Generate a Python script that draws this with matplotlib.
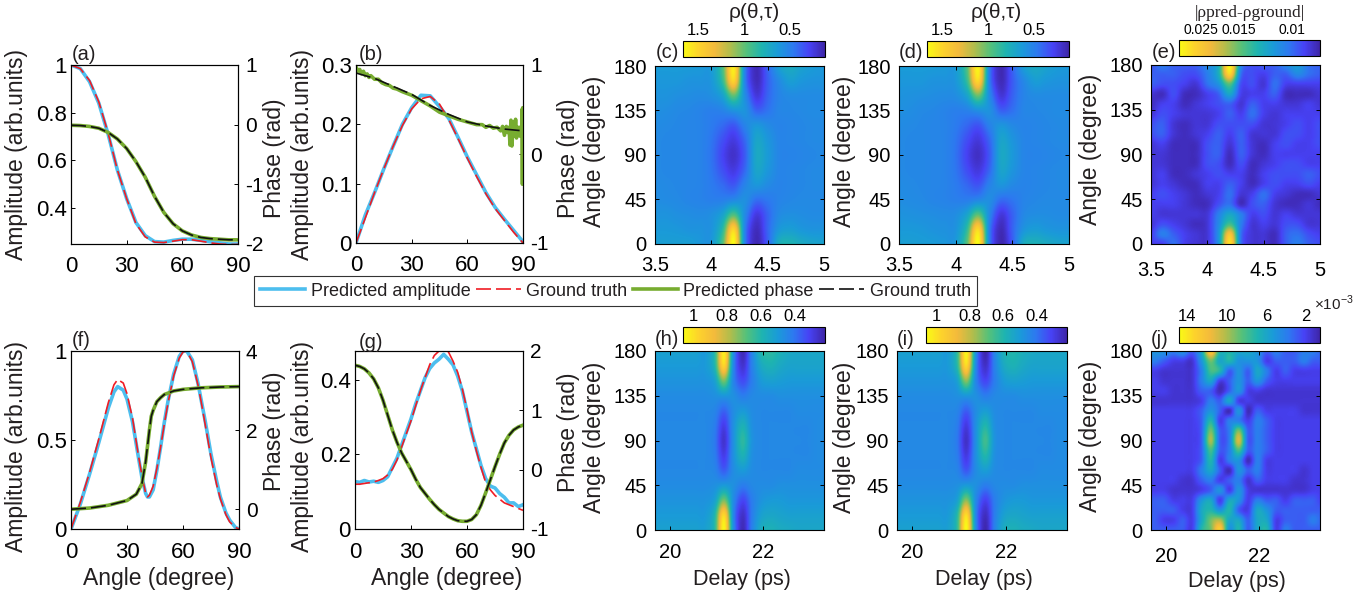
import numpy as np
import matplotlib
matplotlib.use("Agg")
import matplotlib.pyplot as plt
from matplotlib.colors import LinearSegmentedColormap
from matplotlib.lines import Line2D

W, H = 1370, 599
SANS = ["Liberation Sans", "DejaVu Sans"]
plt.rcParams["font.family"] = SANS
plt.rcParams["text.color"] = "#231f20"
plt.rcParams["axes.unicode_minus"] = False
plt.rcParams["mathtext.fontset"] = "custom"
plt.rcParams["mathtext.rm"] = "Liberation Sans"

# parula-like colours
parula_colors = ["#3e26a8", "#4742f5", "#2d79f0", "#1a9bd8", "#1eb4b0", "#55c17a",
                 "#b0bd4c", "#f3ba3c", "#fdd22c", "#f9fb15"]
parula = LinearSegmentedColormap.from_list("parula", parula_colors)

BLUE, RED, GREEN, BLACK = "#4dbeee", "#f01c24", "#77ac30", "#111111"
DASH = (9, 3)

# --- line panels ---
x5 = [0, 5, 10, 15, 20, 25, 30, 35, 40, 45, 50, 55, 60, 65, 70, 75, 80, 85, 90]

a_amp = [1.0, .985, .93, .84, .71, .56, .44, .34, .285, .26, .258, .265, .27, .27, .265, .26, .255, .25, .25]
a_amp_gt = [1.0, .985, .935, .845, .715, .56, .44, .335, .28, .258, .256, .262, .268, .268, .262, .255, .25, .248, .248]
a_ph = [-.01, -.015, -.03, -.06, -.13, -.24, -.4, -.62, -.88, -1.2, -1.47, -1.66, -1.78, -1.85, -1.89, -1.91, -1.92, -1.93, -1.93]
a_ph_gt = [-.01, -.015, -.03, -.06, -.13, -.24, -.4, -.62, -.88, -1.2, -1.47, -1.66, -1.78, -1.85, -1.89, -1.91, -1.92, -1.93, -1.93]

b_amp = [0, .047, .085, .125, .163, .2, .228, .249, .248, .23, .21, .178, .145, .115, .085, .06, .04, .021, .002]
b_amp_gt = [0, .042, .085, .125, .163, .198, .226, .243, .247, .234, .208, .176, .143, .112, .083, .058, .038, .018, 0]
b_ph_x = [0, 1, 2, 3, 4, 5, 6, 7, 8, 10, 12, 14, 16, 18, 20, 22, 25, 30, 35, 40, 45, 50, 55, 60, 65, 68, 70, 72, 74,
          76, 78, 79, 80, 81, 82, 82.5, 83, 83.5, 84, 84.5, 85, 85.5, 86, 86.5, 87, 87.5, 88, 88.5, 89, 89.3, 89.5,
          89.7, 89.85, 90]
b_ph = [.98, .93, .95, .90, .93, .88, .90, .86, .88, .84, .84, .80, .78, .77, .74, .73, .70, .66, .60, .54, .47, .43,
        .39, .36, .33, .33, .30, .32, .29, .30, .26, .31, .21, .31, .24, .30, .10, .38, .09, .25, .36, .20, .39, .18,
        .30, .22, .30, .20, .30, .22, .50, -.34, .52, -.30]
b_ph_gt_x = [0, 10, 20, 30, 40, 50, 60, 70, 80, 90]
b_ph_gt = [.91, .85, .76, .67, .545, .445, .36, .315, .28, .26]

f_x = [0, 5, 10, 15, 20, 23, 25, 28, 30, 33, 36, 38, 40, 41, 42, 44, 46, 48, 50, 52, 55, 58, 60, 62, 65, 68, 70, 72,
       75, 78, 80, 83, 85, 88, 90]
f_amp = [0, .14, .31, .49, .68, .77, .80, .78, .73, .60, .41, .29, .2, .18, .18, .22, .33, .46, .6, .72, .87, .97, 1.0,
         1.0, .95, .82, .71, .6, .42, .27, .18, .09, .05, .01, 0]
f_amp_gt = [0, .15, .32, .51, .71, .81, .84, .82, .76, .62, .42, .3, .2, .18, .19, .24, .34, .46, .59, .71, .86, .96,
            .995, 1.0, .94, .81, .7, .58, .4, .25, .17, .08, .04, .01, 0]
f_ph_x = [0, 10, 20, 30, 35, 38, 40, 41, 42, 43, 44, 46, 48, 50, 55, 60, 70, 80, 90]
f_ph = [0, .03, .1, .22, .38, .65, 1.2, 1.6, 2.0, 2.35, 2.5, 2.72, 2.82, 2.9, 2.99, 3.03, 3.07, 3.09, 3.1]

g_x = [0, 2.5, 5, 7.5, 10, 12.5, 15, 17.5, 20, 22.5, 25, 27.5, 30, 32.5, 35, 37.5, 40, 42.5, 45, 47.5, 50, 52.5, 55,
       57.5, 60, 62.5, 65, 67.5, 70, 72.5, 75, 77.5, 80, 82.5, 85, 87.5, 90]
g_amp = [.127, .125, .13, .126, .128, .125, .13, .14, .165, .19, .225, .26, .295, .335, .37, .405, .43, .445, .455,
         .468, .455, .44, .41, .37, .315, .26, .215, .17, .135, .115, .11, .095, .085, .07, .07, .06, .065]
g_amp_gt = [.12, .12, .122, .124, .126, .13, .135, .145, .16, .185, .22, .255, .29, .33, .37, .405, .44, .465, .477,
            .483, .475, .45, .42, .375, .32, .26, .21, .165, .125, .105, .09, .08, .07, .065, .06, .055, .05]
g_ph = [1.76, 1.74, 1.7, 1.63, 1.53, 1.38, 1.17, .92, .67, .46, .28, .14, 0, -.16, -.3, -.4, -.5, -.59, -.67, -.73,
        -.79, -.83, -.86, -.87, -.87, -.84, -.76, -.6, -.39, -.17, .05, .26, .45, .58, .67, .72, .75]

# --- maps: value at each delay (columns) and angle (rows, 0 to 180) ---
c_delay = [3.5, 3.6, 3.7, 3.8, 3.9, 4.0, 4.1, 4.2, 4.3, 4.4, 4.5, 4.6, 4.7, 4.8, 4.9, 5.0]
h_delay = [19.76, 19.96, 20.16, 20.36, 20.56, 20.76, 20.96, 21.16, 21.36, 21.56, 21.76, 21.96, 22.16, 22.36, 22.56,
           22.76, 22.96, 23.16, 23.36]

c_map = [[.66, .66, .66, .66, .62, .62, .97, 1.67, .50, .15, .38, .76, .80, .74, .70, .68],
         [.63, .63, .62, .60, .60, .60, .85, 1.50, .50, .17, .40, .62, .66, .62, .60, .60],
         [.60, .60, .58, .57, .56, .58, .68, .95, .55, .25, .40, .55, .58, .57, .56, .56],
         [.57, .56, .55, .53, .52, .50, .50, .54, .58, .44, .47, .52, .54, .55, .55, .55],
         [.56, .55, .54, .53, .52, .48, .42, .36, .52, .62, .56, .52, .53, .54, .55, .55],
         [.55, .54, .54, .53, .52, .46, .34, .25, .42, .70, .62, .53, .53, .54, .55, .55],
         [.55, .54, .54, .53, .52, .45, .30, .20, .38, .72, .64, .53, .52, .53, .54, .55],
         [.55, .54, .54, .53, .52, .46, .34, .25, .42, .70, .62, .53, .53, .54, .55, .55],
         [.56, .55, .54, .53, .52, .48, .42, .36, .52, .62, .56, .52, .53, .54, .55, .55],
         [.58, .57, .55, .54, .52, .50, .52, .60, .60, .40, .45, .53, .54, .55, .56, .56],
         [.60, .60, .58, .57, .56, .58, .68, 1.00, .56, .24, .40, .52, .56, .56, .56, .56],
         [.62, .62, .62, .60, .60, .62, .88, 1.50, .50, .17, .38, .55, .66, .62, .60, .60],
         [.64, .64, .64, .64, .63, .64, .95, 1.62, .50, .16, .40, .66, .74, .68, .64, .62]]

d_map = [[.66, .66, .65, .64, .62, .63, .99, 1.67, .50, .14, .37, .74, .78, .74, .70, .68],
         [.63, .63, .62, .60, .59, .60, .87, 1.52, .49, .16, .39, .60, .65, .62, .60, .60],
         [.60, .59, .58, .57, .56, .57, .69, .98, .54, .24, .39, .54, .57, .57, .56, .56],
         [.57, .56, .55, .53, .52, .50, .49, .53, .57, .43, .46, .52, .54, .55, .55, .55],
         [.56, .55, .54, .53, .52, .48, .41, .35, .51, .61, .55, .52, .53, .54, .55, .55],
         [.55, .54, .54, .53, .52, .46, .33, .24, .41, .69, .61, .53, .53, .54, .55, .55],
         [.55, .54, .54, .53, .52, .45, .29, .19, .37, .71, .63, .53, .52, .53, .54, .55],
         [.55, .54, .54, .53, .52, .46, .33, .24, .41, .69, .61, .53, .53, .54, .55, .55],
         [.56, .55, .54, .53, .52, .48, .41, .35, .51, .61, .55, .52, .53, .54, .55, .55],
         [.58, .57, .55, .54, .52, .50, .51, .58, .59, .39, .44, .53, .54, .55, .56, .56],
         [.60, .59, .58, .57, .56, .57, .69, 1.02, .55, .23, .39, .52, .56, .56, .56, .56],
         [.62, .62, .62, .60, .60, .62, .89, 1.52, .49, .16, .37, .54, .65, .62, .60, .60],
         [.64, .64, .64, .64, .63, .64, .97, 1.64, .49, .15, .39, .65, .73, .68, .64, .62]]

h_map = [[.52, .52, .52, .52, .52, .52, .62, 1.05, .47, .24, .43, .56, .58, .56, .55, .54, .54, .54, .54],
         [.50, .50, .50, .50, .50, .50, .60, .98, .45, .26, .42, .52, .54, .53, .52, .52, .52, .52, .52],
         [.48, .48, .48, .48, .48, .48, .52, .72, .46, .32, .42, .48, .50, .50, .49, .49, .49, .49, .49],
         [.46, .46, .46, .46, .46, .46, .47, .50, .47, .42, .45, .46, .46, .47, .47, .47, .47, .47, .47],
         [.45, .45, .45, .45, .45, .45, .44, .36, .46, .50, .46, .45, .45, .45, .45, .46, .46, .46, .46],
         [.45, .45, .45, .45, .45, .45, .42, .30, .47, .58, .47, .45, .45, .45, .45, .45, .45, .46, .46],
         [.45, .45, .45, .45, .45, .45, .41, .27, .47, .62, .48, .45, .45, .45, .45, .45, .45, .46, .46],
         [.45, .45, .45, .45, .45, .45, .42, .30, .47, .58, .47, .45, .45, .45, .45, .45, .45, .46, .46],
         [.45, .45, .45, .45, .45, .45, .44, .37, .46, .50, .46, .45, .45, .45, .45, .46, .46, .46, .46],
         [.46, .46, .46, .46, .46, .46, .47, .49, .47, .42, .45, .46, .46, .47, .47, .47, .47, .47, .47],
         [.48, .48, .48, .48, .48, .48, .52, .72, .44, .33, .42, .50, .52, .51, .50, .50, .50, .50, .50],
         [.50, .50, .50, .50, .50, .50, .60, .97, .45, .27, .43, .55, .58, .55, .53, .53, .53, .53, .53],
         [.52, .52, .52, .52, .52, .50, .62, 1.03, .47, .24, .44, .60, .62, .58, .55, .54, .54, .54, .54]]

i_map = [[.52, .52, .52, .52, .52, .52, .63, 1.06, .46, .23, .43, .56, .58, .56, .55, .54, .54, .54, .54],
         [.50, .50, .50, .50, .50, .50, .61, .99, .44, .25, .42, .52, .54, .53, .52, .52, .52, .52, .52],
         [.48, .48, .48, .48, .48, .48, .52, .74, .45, .31, .42, .48, .50, .50, .49, .49, .49, .49, .49],
         [.46, .46, .46, .46, .46, .46, .47, .50, .47, .42, .45, .46, .46, .47, .47, .47, .47, .47, .47],
         [.45, .45, .45, .45, .45, .45, .44, .35, .46, .51, .46, .45, .45, .45, .45, .46, .46, .46, .46],
         [.45, .45, .45, .45, .45, .45, .42, .29, .47, .60, .47, .45, .45, .45, .45, .45, .45, .46, .46],
         [.45, .45, .45, .45, .45, .45, .41, .26, .47, .65, .48, .45, .45, .45, .45, .45, .45, .46, .46],
         [.45, .45, .45, .45, .45, .45, .42, .29, .47, .60, .47, .45, .45, .45, .45, .45, .45, .46, .46],
         [.45, .45, .45, .45, .45, .45, .44, .36, .46, .51, .46, .45, .45, .45, .45, .46, .46, .46, .46],
         [.46, .46, .46, .46, .46, .46, .47, .49, .47, .42, .45, .46, .46, .47, .47, .47, .47, .47, .47],
         [.48, .48, .48, .48, .48, .48, .52, .74, .44, .32, .42, .50, .52, .51, .50, .50, .50, .50, .50],
         [.50, .50, .50, .50, .50, .50, .61, .98, .45, .26, .43, .55, .58, .55, .53, .53, .53, .53, .53],
         [.52, .52, .52, .52, .52, .50, .63, 1.05, .47, .23, .44, .58, .60, .57, .55, .54, .54, .54, .54]]

# e and j are drawn in 10^-3 units, rows every 10 degrees
e_map = [[5, 5, 8, 5, 4, 4, 11, 29, 8, 4, 4, 3, 7, 9, 7, 6],
         [5, 9, 7, 5, 4, 4, 11, 26, 8, 4, 4, 3, 7, 8, 6, 5],
         [4, 6, 5, 4, 3, 4, 10, 17, 9, 4, 5, 4, 6, 6, 4, 4],
         [5, 4, 4, 4, 4, 4, 9, 13, 9, 5, 6, 4, 5, 4, 4, 4],
         [5, 5, 5, 4, 3, 3, 6, 8, 3, 6, 7, 4, 3, 3, 4, 3],
         [5, 6, 5, 4, 3, 4, 5, 8, 4, 5, 8, 5, 4, 3, 3, 4],
         [4, 5, 4, 3, 3, 5, 5, 7, 5, 3, 5, 6, 5, 5, 6, 5],
         [4, 5, 3, 3, 4, 5, 6, 5, 5, 3, 5, 6, 6, 6, 7, 6],
         [4, 4, 3, 3, 3, 6, 6, 3, 6, 3, 4, 5, 6, 6, 5, 5],
         [4, 4, 3, 3, 3, 6, 7, 3, 7, 4, 3, 5, 5, 5, 5, 5],
         [4, 5, 3, 3, 3, 6, 7, 4, 7, 4, 3, 5, 6, 5, 5, 6],
         [6, 7, 4, 3, 4, 5, 7, 5, 7, 4, 4, 4, 6, 6, 5, 6],
         [6, 7, 4, 3, 4, 4, 6, 6, 6, 6, 4, 4, 5, 6, 5, 6],
         [4, 6, 5, 4, 4, 4, 5, 7, 5, 8, 5, 4, 5, 5, 5, 5],
         [3, 5, 5, 3, 4, 5, 6, 7, 4, 7, 5, 5, 4, 4, 5, 4],
         [4, 3, 6, 3, 3, 5, 7, 13, 5, 5, 5, 7, 3, 3, 3, 4],
         [7, 6, 6, 5, 4, 8, 11, 18, 6, 6, 4, 8, 5, 5, 5, 5],
         [7, 7, 7, 6, 6, 9, 14, 28, 8, 6, 5, 7, 7, 10, 8, 7],
         [6, 9, 7, 7, 7, 10, 14, 31, 10, 6, 7, 7, 10, 12, 8, 7]]

j_map = [[3, 3, 3, 3, 2, 7, 9, 13, 5, 7, 3, 6, 7, 2, 4, 3, 3, 3, 3],
         [3, 2, 2, 3, 2, 6, 9, 10, 6, 6, 3, 6, 6, 2, 3, 3, 3, 4, 3],
         [3, 3, 3, 2, 2, 6, 7, 5, 7, 3, 2, 6, 5, 3, 3, 3, 3, 3, 3],
         [3, 3, 2, 2, 2, 5, 6, 2, 6, 5, 2, 4, 3, 3, 2, 3, 3, 3, 2],
         [2, 2, 1.5, 1.5, 1.5, 2, 3, 5, 2, 5, 2, 1.5, 1.5, 1.5, 1.5, 1.5, 1.5, 2, 2],
         [2, 2, 2, 1.5, 1.5, 3, 4, 2, 3, 4, 1.5, 3, 2, 2, 2, 1.5, 1.5, 2, 2],
         [2, 2, 2, 2, 2, 4, 6, 3, 1, 5, 3, 4, 2, 2, 2, 2, 1.5, 2, 2],
         [2, 2, 2, 2, 2, 3, 7, 2, 4, 5, 1, 4, 2, 2, 2, 2, 2, 2, 2],
         [2, 2, 2, 2, 2, 3, 8, 3, 4, 8, 3, 4, 3, 2, 2, 2, 2, 2, 2],
         [2, 2, 2, 2, 2, 3, 10, 3, 4, 11, 3, 4, 3, 2, 2, 2, 2, 2, 2],
         [2, 2, 2, 2, 2, 3, 9, 3, 4, 9, 3, 4, 3, 2, 2, 2, 2, 2, 2],
         [2, 2, 2, 2, 2, 3, 7, 2, 4, 4, 2, 4, 3, 2, 2, 2, 2, 2, 2],
         [2, 2, 2, 2, 2, 3, 5, 3, 1, 5, 1, 3, 2, 2, 2, 2, 1.5, 1.5, 1.5],
         [1.5, 1.5, 1.5, 1.5, 1.5, 2, 4, 3, 6, 2, 2, 1.5, 1.5, 1.5, 1.5, 1.5, 1.5, 1.5, 1.5],
         [2, 2, 1.5, 1.5, 1.5, 3, 3, 1, 3, 5, 2, 2, 1.5, 1.5, 1.5, 1.5, 1.5, 1.5, 1.5],
         [2, 1.5, 1.5, 1.5, 1.5, 4, 6, 2, 3, 5, 3, 5, 3, 2, 2, 2, 2, 2, 2],
         [2, 1.5, 1.5, 1.5, 1.5, 4, 8, 7, 3, 5, 3, 6, 4, 2, 3, 2, 2, 2, 2],
         [4, 3, 2, 2, 1.5, 5, 9, 6, 7, 5, 5, 5, 2, 3, 3, 3, 4, 3, 3],
         [5, 5, 4, 5, 3, 6, 13, 7, 7, 6, 6, 5, 3, 4, 3, 3, 4, 4, 3]]


def px_axes(fig, left, right, top, bottom):
    return fig.add_axes([left / W, 1 - bottom / H, (right - left) / W, (bottom - top) / H])


def px_text(fig, x, y, s, **kw):
    kw.setdefault("ha", "center")
    kw.setdefault("va", "center")
    return fig.text(x / W, 1 - y / H, s, **kw)


def line_panel(fig, box, amp, amp_gt, ph_x, ph, ph_gt_x, ph_gt, x_amp, ylim, yticks, ylim2, yticks2):
    ax = px_axes(fig, *box)
    ax.plot(x_amp, amp, color=BLUE, lw=2.6)
    ax.plot(x_amp, amp_gt, color=RED, lw=1.2, dashes=DASH)
    ax.set_xlim(0, 90)
    ax.set_ylim(*ylim)
    ax.set_xticks([0, 30, 60, 90])
    ax.set_yticks(yticks)
    ax.set_yticklabels([f"{t:g}" for t in yticks])
    ax.tick_params(axis="x", direction="in", length=3, labelsize=16, pad=9, width=.7)
    ax.tick_params(axis="y", direction="in", length=3, labelsize=16, pad=3, width=.7)
    ax2 = ax.twinx()
    ax2.plot(ph_x, ph, color=GREEN, lw=2.6)
    ax2.plot(ph_gt_x, ph_gt, color=BLACK, lw=1.2, dashes=DASH)
    ax2.set_ylim(*ylim2)
    ax2.set_yticks(yticks2)
    ax2.tick_params(axis="y", direction="in", length=3, labelsize=15, pad=5, width=.7)
    return ax


def map_panel(fig, box, cbar_box, data, delay, angle_step, xlim, xticks, vmin, vmax, cticks, clabels, csize=12, xpad=9):
    ax = px_axes(fig, *box)
    dx = delay[1] - delay[0]
    ext = [delay[0] - dx / 2, delay[-1] + dx / 2, -angle_step / 2, 180 + angle_step / 2]
    im = ax.imshow(data, origin="lower", extent=ext, aspect="auto", cmap=parula, vmin=vmin, vmax=vmax,
                   interpolation="catrom")
    ax.set_xlim(*xlim)
    ax.set_ylim(0, 180)
    ax.set_xticks(xticks)
    ax.set_xticklabels([f"{t:g}" for t in xticks])
    ax.set_yticks([0, 45, 90, 135, 180])
    ax.tick_params(direction="in", length=3, width=.7, top=True, right=True, labelsize=14.5)
    ax.tick_params(axis="x", pad=xpad)
    ax.tick_params(axis="y", pad=6)
    cax = px_axes(fig, *cbar_box)
    cb = fig.colorbar(im, cax=cax, orientation="horizontal")
    cax.invert_xaxis()
    cax.xaxis.set_ticks_position("top")
    cb.set_ticks(cticks)
    cb.set_ticklabels(clabels)
    cax.tick_params(length=0, pad=2, labelsize=csize)
    return ax


fig = plt.figure(figsize=(W / 100, H / 100), dpi=100)

line_panel(fig, (71, 238, 65, 244), a_amp, a_amp_gt, x5, a_ph, x5, a_ph_gt, x5,
           (.25, 1), [.4, .6, .8, 1], (-2, 1), [-2, -1, 0, 1])
line_panel(fig, (356, 523, 65, 243), b_amp, b_amp_gt, b_ph_x, b_ph, b_ph_gt_x, b_ph_gt, x5,
           (0, .3), [0, .1, .2, .3], (-1, 1), [-1, 0, 1])
line_panel(fig, (71, 239, 351, 529), f_amp, f_amp_gt, f_ph_x, f_ph, f_ph_x, f_ph, f_x,
           (0, 1), [0, .5, 1], (-.5, 4), [0, 2, 4])
line_panel(fig, (355, 523, 351, 529), g_amp, g_amp_gt, g_x, g_ph, g_x, g_ph, g_x,
           (0, .477), [0, .2, .4], (-1, 2), [-1, 0, 1, 2])

angle_step_c, angle_step_e = 15, 10
c_lim, h_lim = (3.5, 5), (19.68, 23.3)
map_panel(fig, (655, 824, 66, 244), (683, 825, 41, 57), c_map, c_delay, angle_step_c, c_lim, [3.5, 4, 4.5, 5],
          .12, 1.67, [1.5, 1, .5], ["1.5", "1", "0.5"])
map_panel(fig, (899, 1069, 66, 244), (927, 1069, 41, 57), d_map, c_delay, angle_step_c, c_lim, [3.5, 4, 4.5, 5],
          .12, 1.67, [1.5, 1, .5], ["1.5", "1", "0.5"])
map_panel(fig, (1151, 1320, 65, 244), (1179, 1320, 40, 56), e_map, c_delay, angle_step_e, c_lim, [3.5, 4, 4.5, 5],
          2, 31, [26.5, 18.8, 7.8], ["0.025", "0.015", "0.01"], csize=10, xpad=12)
map_panel(fig, (655, 824, 351, 530), (683, 825, 327, 343), h_map, h_delay, angle_step_c, h_lim, [20, 22],
          .22, 1.06, [1, .8, .6, .4], ["1", "0.8", "0.6", "0.4"])
map_panel(fig, (897, 1067, 351, 530), (926, 1067, 327, 343), i_map, h_delay, angle_step_c, h_lim, [20, 22],
          .22, 1.06, [1, .8, .6, .4], ["1", "0.8", "0.6", "0.4"])
map_panel(fig, (1151, 1320, 351, 530), (1179, 1320, 327, 343), j_map, h_delay, angle_step_e, h_lim, [20, 22],
          .6, 14.8, [14, 10, 6, 2], ["14", "10", "6", "2"], xpad=12)

# panel letters
for x, y, s in [(84, 55, "(a)"), (371, 55, "(b)"), (667, 53, "(c)"), (911, 53, "(d)"), (1164, 53, "(e)"),
                (81, 341, "(f)"), (371, 342, "(g)"), (667, 340, "(h)"), (906, 340, "(i)"), (1160, 340, "(j)")]:
    px_text(fig, x, y, s, fontsize=14.5)

# axis labels
for x, y in [(17, 154), (302, 154), (17, 447), (302, 447)]:
    px_text(fig, x, y, "Amplitude (arb.units)", fontsize=16.5, rotation=90)
for x, y in [(275, 158), (275, 431), (569, 158), (569, 432)]:
    px_text(fig, x, y, "Phase (rad)", fontsize=16.5, rotation=90)
for x, y in [(595, 151), (845, 151), (1091, 149), (595, 437), (845, 437), (1091, 436)]:
    px_text(fig, x, y, "Angle (degree)", fontsize=16.5, rotation=90)
for x in [159, 447]:
    px_text(fig, x, 579, "Angle (degree)", fontsize=16.5)
for x, y in [(742, 580), (984, 580), (1237, 582)]:
    px_text(fig, x, y, "Delay (ps)", fontsize=15.5)

# colorbar titles
px_text(fig, 754, 13, "ρ(θ,τ)", fontsize=15)
px_text(fig, 996, 13, "ρ(θ,τ)", fontsize=15)
px_text(fig, 1250, 13, "|ρpred-ρground|", fontsize=12.5, family=["Liberation Serif", "DejaVu Serif"])
px_text(fig, 1334, 303, r"$\times10^{-3}$", fontsize=11)

# shared legend
handles = [Line2D([], [], color=BLUE, lw=2.6), Line2D([], [], color=RED, lw=1.2, dashes=DASH),
           Line2D([], [], color=GREEN, lw=2.6), Line2D([], [], color=BLACK, lw=1.2, dashes=DASH)]
labels = ["Predicted amplitude", "Ground truth", "Predicted phase", "Ground truth"]
leg = fig.legend(handles, labels, ncol=4, loc="center", bbox_to_anchor=(615.5 / W, 1 - 291 / H), frameon=True,
                 fancybox=False, edgecolor="#333333", framealpha=1, prop={"size": 13},
                 handlelength=2.5, handletextpad=.3, columnspacing=.3, borderpad=.35, borderaxespad=0)
leg.get_frame().set_linewidth(.8)

fig.savefig("out.png", dpi=100)
